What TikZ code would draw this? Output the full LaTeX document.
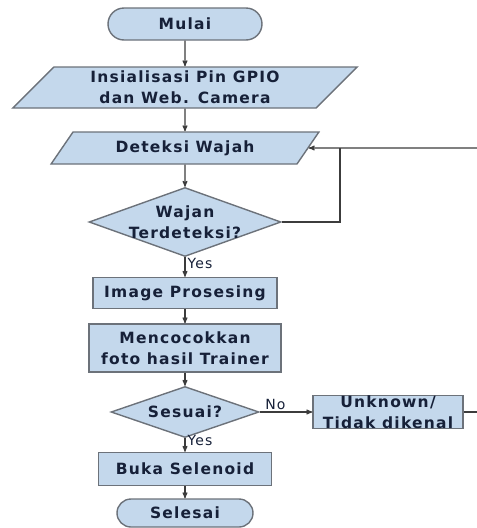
\documentclass[tikz,border=0pt]{standalone}
\usepackage{fontspec}
\newfontfamily\flowfont[LetterSpace=8]{DejaVu Sans}
\usetikzlibrary{shapes.geometric,shapes.misc}
\usetikzlibrary{arrows}

\definecolor{boxfill}{RGB}{196,216,236}
\definecolor{boxline}{RGB}{108,114,122}
\definecolor{boxtext}{RGB}{22,32,56}
\definecolor{flowline}{RGB}{60,60,60}

\begin{document}
\begin{tikzpicture}[x=1pt,y=-1pt,->,>=stealth',line width=1.1pt,draw=flowline]
\tikzstyle{every flow}=[draw=boxline,fill=boxfill,line width=1.4pt,text=boxtext,align=center]
\tikzstyle{term}=[every flow,rounded rectangle,inner sep=0pt]
\tikzstyle{io}=[every flow,trapezium,trapezium left angle=48,trapezium right angle=132,
                trapezium stretches=true,inner sep=0pt]
\tikzstyle{proc}=[every flow,rectangle,inner sep=0pt]
\tikzstyle{dec}=[every flow,diamond,inner sep=-30pt]
\tikzstyle{lbl}=[text=boxtext,inner sep=2pt,font=\fontsize{14pt}{16}\selectfont\flowfont]
\tikzset{font=\fontsize{15.5pt}{21}\selectfont\flowfont\bfseries}
\useasboundingbox (0,0) rectangle (477,528);

        \node[term,minimum width=154pt,minimum height=32pt]            (start) at (185,24)  {Mulai};
        \node[io,minimum width=345pt,minimum height=41pt, node distance=63.5pt] (init)  [below of=start] {Insialisasi Pin GPIO\\dan Web. Camera};
        \node[io,minimum width=268pt,minimum height=32pt, node distance=60.5pt] (detect) [below of=init]  {Deteksi Wajah};
        \node[dec,minimum width=192pt,minimum height=69pt, node distance=74pt]  (cek)   [below of=detect] {Wajan\\Terdeteksi?};
        \node[proc,minimum width=184pt,minimum height=31pt, node distance=71pt] (img)   [below of=cek]    {Image Prosesing};
        \node[proc,minimum width=192pt,minimum height=48pt, node distance=55pt] (match) [below of=img]    {Mencocokkan\\foto hasil Trainer};
        \node[dec,minimum width=148pt,minimum height=51pt, node distance=64pt]  (ses)   [below of=match]  {Sesuai?};
        \node[proc,minimum width=173pt,minimum height=33pt, node distance=57pt] (buka)  [below of=ses]    {Buka Selenoid};
        \node[term,minimum width=136pt,minimum height=28pt, node distance=44pt] (stop)  [below of=buka]   {Selesai};
        \node[proc,minimum width=150pt,minimum height=28pt, node distance=203pt] (unk)  [right of=ses]    {Unknown/\\Tidak dikenal};

        \coordinate (loop) at (340,148);
        \coordinate (r1) at (477,148);
        \coordinate (r2) at (477,412);

        \path[->]
        (start)  edge node {}                          (init)
        (init)   edge node {}                          (detect)
        (detect) edge node {}                          (cek)
        (cek)    edge node[lbl,right,pos=0.3] {Yes}    (img)
        (img)    edge node {}                          (match)
        (match)  edge node {}                          (ses)
        (ses)    edge node[lbl,above,pos=0.3] {No}     (unk)
        (ses)    edge node[lbl,right,pos=0.15] {Yes}   (buka)
        (buka)   edge node {}                          (stop)
        ; %end path

        \draw[-] (cek.east) -| (loop);
        \draw[->] (r1) -- (detect.east);
        \draw[-] (unk.east) -- (r2);
\end{tikzpicture}
\end{document}
